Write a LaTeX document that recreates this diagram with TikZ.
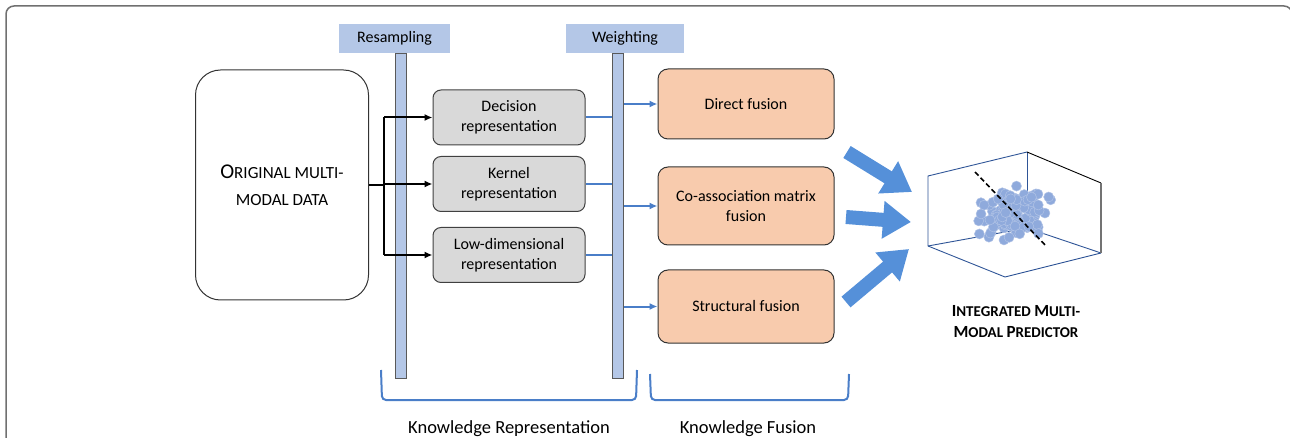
\documentclass[tikz,border=0pt]{standalone}
\usepackage{fontspec}
\setmainfont{Carlito}
\usetikzlibrary{arrows.meta}

\definecolor{barblue}{HTML}{B4C7E7}
\definecolor{linkblue}{HTML}{4A7EC8}
\definecolor{arrowblue}{HTML}{5590D9}
\definecolor{repgray}{HTML}{D9D9D9}
\definecolor{fuseorange}{HTML}{F8CBAD}
\definecolor{dotblue}{HTML}{8FAADC}
\definecolor{cubeblue}{HTML}{2F5597}
\definecolor{framegray}{HTML}{707070}

% fake small caps
\newcommand{\origbig}{\fontsize{21}{27}\selectfont}
\newcommand{\origsmall}{\fontsize{17}{27}\selectfont}
\newcommand{\predbig}{\fontsize{17}{21}\selectfont\bfseries}
\newcommand{\predsmall}{\fontsize{15}{21}\selectfont\bfseries}

\tikzset{
  boxfont/.style={font=\fontsize{16}{20}\selectfont},
  header/.style={boxfont, fill=barblue, minimum height=29pt, inner sep=0pt},
  bar/.style={fill=barblue, draw=black!65, line width=1pt, minimum width=11pt, inner sep=0pt},
  origbox/.style={draw=black!80, line width=1pt, rounded corners=25pt,
    minimum width=173pt, minimum height=230pt, align=center, font=\origsmall},
  repbox/.style={boxfont, draw=black!75, line width=1pt, fill=repgray, rounded corners=8pt,
    minimum width=152pt, minimum height=55pt, align=center, inner sep=0pt},
  fusebox/.style={boxfont, draw=black!80, line width=1pt, fill=fuseorange, rounded corners=10pt,
    minimum width=176pt, align=center, inner sep=0pt},
  blk/.style={line width=2pt, black},
  bluelink/.style={line width=2pt, linkblue},
  bigarrow/.style={line width=14pt, arrowblue, -{Triangle[length=28pt,width=36pt]}},
  brace/.style={line width=2pt, linkblue, rounded corners=4pt},
  cubeedge/.style={cubeblue, line width=0.9pt},
  kfont/.style={font=\fontsize{18.5}{22}\selectfont, anchor=base}
}

\begin{document}
\begin{tikzpicture}[x=1pt, y=-1pt, >={Latex[length=8pt,width=7pt]}]
\useasboundingbox (0,0) rectangle (1290,438);
% outer frame
\draw[framegray, line width=1.5pt, rounded corners=8pt] (6,460) -- (6,6) -- (1292,6) -- (1292,460);

% bars
\node[header, minimum width=111pt] (rhead) at (394.5,38.5) {Resampling};
\node[header, minimum width=118pt] (whead) at (625,38.5) {Weighting};
\node[bar, minimum height=325pt, anchor=north] (rbar) at (400.5,53) {};
\node[bar, minimum height=325pt, anchor=north] (wbar) at (618,53) {};

% input data
\node[origbox] (orig) at (282,185) {{\origbig O}RIGINAL MULTI-\\MODAL DATA};

% representations
\node[repbox] (dec) at (509,117.5) {Decision\\representation};
\node[repbox] (ker) at (509,184) {Kernel\\representation};
\node[repbox] (low) at (509,255) {Low-dimensional\\representation};

% fusions
\node[fusebox, minimum height=70pt] (direct) at (746,104) {Direct fusion};
\node[fusebox, minimum height=78pt] (coassoc) at (746,206) {Co-association matrix\\fusion};
\node[fusebox, minimum height=73pt] (struct) at (746,306.5) {Structural fusion};

% resampling connectors
\coordinate (junc) at (384,185);
\draw[blk] (orig.east) -- (junc);
\draw[blk] (junc |- dec.west) -- (junc |- low.west);
\draw[blk,->] (junc |- dec.west) -- (dec.west);
\draw[blk,->] (junc |- ker.west) -- (ker.west);
\draw[blk,->] (junc |- low.west) -- (low.west);

% weighting connectors
\draw[bluelink] (dec.east) -- (dec.east -| wbar.west);
\draw[bluelink] (ker.east) -- (ker.east -| wbar.west);
\draw[bluelink] (low.east) -- (low.east -| wbar.west);
\draw[bluelink,->] (direct.west -| wbar.east) -- (direct.west);
\draw[bluelink,->] (coassoc.west -| wbar.east) -- (coassoc.west);
\draw[bluelink,->] (struct.west -| wbar.east) -- (struct.west);

% predictor box
\coordinate (cA) at (928,176);
\coordinate (cB) at (1027,152);
\coordinate (cC) at (1101,183);
\coordinate (cD) at (1101,253);
\coordinate (cE) at (1005,277);
\coordinate (cF) at (928,246);
\coordinate (cG) at (1027,228);
\draw[cubeedge] (cB) -- (cA) -- (cF) -- (cE) -- (cD);
\draw[cubeedge] (cF) -- (cG) -- (cD);
\draw[cubeedge] (cB) -- (cG);
\draw[black, line width=0.9pt] (cB) -- (cC);
\draw[black!55, line width=1.6pt] (cC) -- (cD);
\pgfmathsetseed{7}
\foreach \i in {1,...,130}{
  \pgfmathsetmacro{\dx}{27*(rand+rand+rand)/1.7}
  \pgfmathsetmacro{\dy}{19*(rand+rand+rand)/1.7}
  \filldraw[fill=dotblue, draw=dotblue!70!white, line width=0.5pt]
    (1013+\dx, 211+\dy-0.15*\dx) circle (5pt);
}
\draw[black, line width=1.6pt, dash pattern=on 5pt off 3pt] (975,172) -- (1047,247);
\node[align=center, font=\predsmall] (pred) at (1016,322)
  {{\predbig I}NTEGRATED {\predbig M}ULTI-\\{\predbig M}ODAL {\predbig P}REDICTOR};

% fusion arrows
\draw[bigarrow] (847,152) -- (912,192);
\draw[bigarrow] (846,217) -- (911,222);
\draw[bigarrow] (846,302) -- (909,249);

% stage braces
\draw[brace] (381,370) -- (382,400) -- (636,400) -- (637,370);
\draw[brace] (650,374) -- (651,400) -- (848,400) -- (849,374);
\node[kfont] (krep) at (509,433) {Knowledge Representation};
\node[kfont] (kfus) at (748,433) {Knowledge Fusion};
\end{tikzpicture}
\end{document}
